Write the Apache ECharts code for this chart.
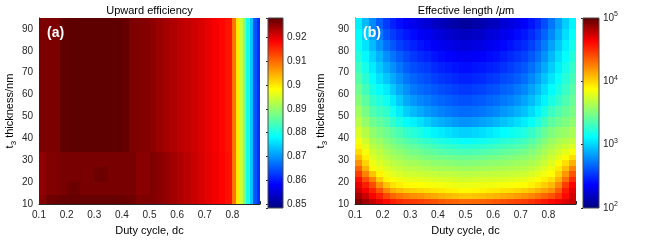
<!DOCTYPE html>
<html><head><meta charset="utf-8">
<script src="https://cdn.jsdelivr.net/npm/echarts@6.0.0/dist/echarts.min.js"></script>
<style>html,body{margin:0;padding:0;background:#fff}#chart{width:654px;height:241px}</style>
</head><body><div id="chart"></div>
<script>
// ---------- Panel (a): Upward efficiency ----------
const dutyEdgesA = [0.1,0.125,0.15,0.175,0.2,0.25,0.3,0.35,0.4,0.425,0.45,0.475,0.5,0.525,0.55,0.575,0.6,0.625,0.65,0.675,0.7,0.725,0.75,0.775,0.8,0.8125,0.825,0.8375,0.85,0.8625,0.875,0.8875,0.9];
const thickEdgesA = [10,14,20,27,34,45,60,75,95];
// rows from bottom (t3 = 10) to top (t3 = 95)
const efficiencyRows = [
 [0.9255,0.927,0.9272,0.9275,0.9275,0.9275,0.9275,0.9275,0.9272,0.927,0.926,0.926,0.926,0.9255,0.9248,0.924,0.9232,0.9224,0.9216,0.9208,0.9198,0.919,0.9182,0.917,0.909,0.900,0.894,0.888,0.880,0.874,0.865,0.862],
 [0.925,0.9258,0.926,0.9265,0.9272,0.9265,0.9265,0.9265,0.9265,0.9265,0.9255,0.9255,0.926,0.9255,0.9248,0.924,0.9232,0.9224,0.9216,0.9208,0.9198,0.919,0.9182,0.917,0.909,0.900,0.894,0.888,0.880,0.874,0.865,0.862],
 [0.925,0.9258,0.926,0.9265,0.9265,0.9265,0.9272,0.9265,0.9265,0.9265,0.9255,0.9255,0.926,0.9255,0.9248,0.924,0.9232,0.9224,0.9216,0.9208,0.9198,0.919,0.9182,0.917,0.909,0.900,0.894,0.888,0.880,0.874,0.865,0.862],
 [0.925,0.9258,0.926,0.9265,0.9265,0.9265,0.9265,0.9265,0.9265,0.9265,0.9255,0.9255,0.926,0.9255,0.9248,0.924,0.9232,0.9224,0.9216,0.9208,0.9198,0.919,0.9182,0.917,0.909,0.900,0.894,0.888,0.880,0.874,0.865,0.862],
 [0.9262,0.9262,0.9262,0.9278,0.928,0.928,0.928,0.928,0.9276,0.9262,0.926,0.9258,0.9252,0.9245,0.9238,0.9232,0.9225,0.9218,0.9212,0.9205,0.9196,0.9188,0.918,0.9168,0.909,0.900,0.894,0.888,0.880,0.874,0.865,0.862],
 [0.9262,0.9262,0.9262,0.9278,0.928,0.928,0.928,0.928,0.9276,0.9262,0.926,0.9258,0.9252,0.9245,0.9238,0.9232,0.9225,0.9218,0.9212,0.9205,0.9196,0.9188,0.918,0.9168,0.909,0.900,0.894,0.888,0.880,0.874,0.865,0.862],
 [0.9262,0.9262,0.9262,0.9278,0.928,0.928,0.928,0.928,0.9276,0.9262,0.926,0.9258,0.9252,0.9245,0.9238,0.9232,0.9225,0.9218,0.9212,0.9205,0.9196,0.9188,0.918,0.9168,0.909,0.900,0.894,0.888,0.880,0.874,0.865,0.862],
 [0.9262,0.9262,0.9262,0.9278,0.928,0.928,0.928,0.928,0.9276,0.9262,0.926,0.9258,0.9252,0.9245,0.9238,0.9232,0.9225,0.9218,0.9212,0.9205,0.9196,0.9188,0.918,0.9168,0.909,0.900,0.894,0.888,0.880,0.874,0.865,0.862]
];
const effRange = [0.8483, 0.9283];
const effColorTicks = [0.85,0.86,0.87,0.88,0.89,0.9,0.91,0.92];

// ---------- Panel (b): Effective length (log10 of length in um) ----------
const dutyEdgesB = [0.1,0.125,0.15,0.175,0.2,0.225,0.25,0.275,0.3,0.325,0.35,0.375,0.4,0.425,0.45,0.475,0.5,0.525,0.55,0.575,0.6,0.625,0.65,0.675,0.7,0.725,0.75,0.775,0.8,0.825,0.85,0.875,0.9];
const thickEdgesB = [10,12.5,15,17.5,20,22.5,25,27.5,30,32.5,35,37.5,40,45,50,55,60,65,70,75,80,85,90,95];
const lengthLog10Rows = [
 [4.92,4.84,4.76,4.68,4.60,4.54,4.50,4.47,4.46,4.44,4.41,4.39,4.36,4.34,4.33,4.31,4.31,4.32,4.33,4.35,4.37,4.39,4.41,4.43,4.45,4.48,4.52,4.56,4.60,4.65,4.70,4.75],
 [4.83,4.74,4.63,4.53,4.42,4.33,4.28,4.24,4.21,4.19,4.15,4.13,4.10,4.08,4.06,4.04,4.04,4.05,4.06,4.08,4.10,4.12,4.14,4.17,4.20,4.23,4.28,4.33,4.38,4.47,4.60,4.72],
 [4.75,4.64,4.52,4.38,4.23,4.12,4.07,4.03,4.01,3.99,3.97,3.95,3.94,3.92,3.91,3.89,3.89,3.90,3.91,3.93,3.94,3.96,3.97,3.99,4.02,4.05,4.10,4.15,4.20,4.35,4.55,4.68],
 [4.68,4.54,4.40,4.20,4.05,3.96,3.92,3.89,3.88,3.87,3.86,3.85,3.84,3.83,3.82,3.81,3.81,3.82,3.83,3.83,3.84,3.85,3.86,3.87,3.88,3.91,3.96,4.02,4.08,4.22,4.45,4.62],
 [4.58,4.40,4.24,4.03,3.90,3.86,3.83,3.81,3.80,3.79,3.78,3.77,3.76,3.76,3.75,3.74,3.74,3.75,3.76,3.76,3.77,3.77,3.78,3.79,3.80,3.83,3.87,3.92,3.97,4.10,4.30,4.50],
 [4.45,4.24,4.05,3.90,3.83,3.79,3.76,3.74,3.73,3.72,3.71,3.70,3.69,3.69,3.68,3.67,3.67,3.68,3.69,3.69,3.70,3.70,3.71,3.72,3.73,3.76,3.80,3.84,3.88,4.00,4.18,4.38],
 [4.33,4.10,3.89,3.82,3.77,3.73,3.70,3.68,3.67,3.65,3.64,3.62,3.61,3.61,3.60,3.59,3.59,3.60,3.61,3.61,3.62,3.63,3.64,3.65,3.66,3.69,3.73,3.78,3.83,3.93,4.07,4.24],
 [4.20,4.00,3.83,3.77,3.72,3.68,3.65,3.62,3.61,3.59,3.57,3.55,3.54,3.53,3.52,3.51,3.51,3.52,3.53,3.54,3.55,3.56,3.57,3.59,3.60,3.63,3.67,3.72,3.78,3.86,3.97,4.10],
 [4.08,3.92,3.78,3.72,3.67,3.63,3.60,3.56,3.54,3.52,3.50,3.48,3.47,3.46,3.45,3.44,3.44,3.45,3.46,3.47,3.48,3.50,3.51,3.53,3.54,3.57,3.62,3.67,3.73,3.80,3.88,3.97],
 [3.98,3.85,3.73,3.68,3.62,3.58,3.54,3.50,3.47,3.45,3.42,3.40,3.38,3.36,3.35,3.34,3.34,3.35,3.36,3.38,3.39,3.41,3.42,3.45,3.47,3.51,3.56,3.62,3.68,3.74,3.80,3.86],
 [3.90,3.79,3.68,3.63,3.57,3.53,3.48,3.44,3.41,3.38,3.35,3.32,3.29,3.27,3.26,3.24,3.24,3.25,3.26,3.28,3.30,3.32,3.34,3.36,3.39,3.44,3.50,3.57,3.63,3.68,3.72,3.77],
 [3.84,3.74,3.63,3.58,3.52,3.47,3.42,3.37,3.34,3.30,3.27,3.24,3.21,3.18,3.16,3.14,3.14,3.16,3.17,3.19,3.21,3.24,3.26,3.29,3.32,3.37,3.44,3.51,3.58,3.62,3.66,3.70],
 [3.76,3.66,3.56,3.50,3.45,3.40,3.34,3.28,3.24,3.20,3.15,3.10,3.07,3.04,3.01,2.99,2.99,3.01,3.03,3.06,3.09,3.12,3.15,3.18,3.22,3.28,3.35,3.43,3.50,3.55,3.58,3.62],
 [3.67,3.56,3.46,3.41,3.36,3.28,3.20,3.12,3.09,3.04,2.98,2.93,2.89,2.86,2.83,2.81,2.81,2.83,2.85,2.88,2.91,2.95,2.98,3.03,3.08,3.14,3.22,3.31,3.40,3.45,3.50,3.54],
 [3.60,3.48,3.36,3.31,3.27,3.17,3.07,2.98,2.93,2.88,2.83,2.79,2.76,2.73,2.71,2.69,2.69,2.71,2.72,2.75,2.78,2.82,2.85,2.90,2.95,3.02,3.10,3.20,3.30,3.36,3.42,3.48],
 [3.52,3.40,3.28,3.22,3.17,3.07,2.97,2.88,2.82,2.77,2.74,2.70,2.67,2.65,2.63,2.61,2.61,2.63,2.64,2.67,2.69,2.73,2.76,2.81,2.86,2.93,3.01,3.10,3.20,3.27,3.35,3.43],
 [3.45,3.32,3.20,3.13,3.07,2.97,2.88,2.80,2.73,2.69,2.66,2.63,2.60,2.58,2.56,2.54,2.54,2.56,2.57,2.60,2.62,2.66,2.68,2.73,2.78,2.85,2.93,3.03,3.12,3.20,3.29,3.38],
 [3.37,3.25,3.13,3.04,2.96,2.88,2.80,2.72,2.67,2.63,2.60,2.56,2.53,2.51,2.49,2.47,2.47,2.49,2.50,2.53,2.55,2.59,2.61,2.65,2.70,2.77,2.85,2.95,3.05,3.14,3.24,3.33],
 [3.30,3.18,3.07,2.97,2.88,2.80,2.72,2.65,2.60,2.57,2.54,2.50,2.47,2.45,2.43,2.41,2.41,2.43,2.44,2.46,2.48,2.52,2.55,2.59,2.63,2.70,2.78,2.88,2.98,3.08,3.18,3.28],
 [3.23,3.11,3.00,2.90,2.80,2.72,2.65,2.59,2.54,2.50,2.47,2.43,2.40,2.38,2.36,2.34,2.34,2.36,2.37,2.40,2.42,2.46,2.49,2.53,2.57,2.63,2.71,2.81,2.92,3.03,3.13,3.23],
 [3.17,3.05,2.93,2.81,2.70,2.63,2.56,2.51,2.47,2.43,2.40,2.36,2.33,2.31,2.29,2.27,2.27,2.29,2.30,2.33,2.35,2.39,2.42,2.46,2.50,2.56,2.64,2.74,2.85,2.96,3.08,3.18],
 [3.12,2.99,2.86,2.74,2.62,2.55,2.49,2.44,2.40,2.36,2.33,2.29,2.26,2.23,2.21,2.19,2.19,2.21,2.22,2.26,2.28,2.32,2.35,2.40,2.44,2.50,2.57,2.67,2.78,2.90,3.03,3.14],
 [3.08,2.92,2.78,2.65,2.55,2.47,2.41,2.36,2.32,2.28,2.25,2.21,2.18,2.14,2.12,2.09,2.09,2.12,2.14,2.18,2.20,2.25,2.28,2.32,2.37,2.43,2.50,2.60,2.72,2.85,2.98,3.10]
];
const lenExpRange = [2, 5];
const lenExpTicks = [2,3,4,5];

const dutyTicks = [0.1,0.2,0.3,0.4,0.5,0.6,0.7,0.8];
const thickTicks = [10,20,30,40,50,60,70,80,90];

const jet = ['#00007f','#0000ff','#007fff','#00ffff','#7fff7f','#ffff00','#ff7f00','#ff0000','#5a0000'];
const FONT = '"Liberation Sans", Arial, Helvetica, sans-serif';
const INK = '#262626';

function buildCells(xE, yE, rows) {
  const out = [];
  for (let i = 0; i < rows.length; i++)
    for (let j = 0; j < rows[i].length; j++)
      out.push([xE[j], xE[j+1], yE[i], yE[i+1], rows[i][j]]);
  return out;
}
function renderCell(params, api) {
  const a = api.coord([api.value(0), api.value(3)]);
  const b = api.coord([api.value(1), api.value(2)]);
  const x0 = Math.round(a[0]), y0 = Math.round(a[1]), x1 = Math.round(b[0]), y1 = Math.round(b[1]);
  return {type:'rect', shape:{x:x0, y:y0, width:x1-x0, height:y1-y0}, style:{fill: api.visual('color')}};
}
function renderBar(params, api) {
  const a = api.coord([0, api.value(1)]);
  const b = api.coord([1, api.value(0)]);
  return {type:'rect', shape:{x:a[0], y:a[1], width:b[0]-a[0], height:b[1]-a[1]},
    style:{fill: new echarts.graphic.LinearGradient(0,1,0,0, jet.map((c,i)=>({offset:i/(jet.length-1), color:c}))),
           stroke:'#4a4a4a', lineWidth:1}};
}
const isTick = (list, v) => list.some(t => Math.abs(t - v) < 1e-6);
const tickFmt = list => v => isTick(list, v) ? String(+v.toFixed(2)) : '';

const yName = '{n|t}{s|3}{n| thickness/nm}';
const nameRich = {
  n:{fontSize:11, lineHeight:16, color:'#000', fontFamily:FONT},
  s:{fontSize:8, lineHeight:8, verticalAlign:'bottom', color:'#000', fontFamily:FONT}
};
function panelX(grid) {
  return {gridIndex:grid, type:'value', min:0.1, max:0.9, interval:0.1,
    name:'Duty cycle, dc', nameLocation:'middle', nameGap:20,
    nameTextStyle:{fontSize:11, color:'#000', fontFamily:FONT},
    axisLine:{show:true, onZero:false, lineStyle:{color:INK, width:1}},
    axisTick:{show:true, inside:true, length:3, lineStyle:{color:INK}},
    axisLabel:{color:INK, fontSize:10, fontFamily:FONT, margin:6, formatter:tickFmt(dutyTicks)},
    splitLine:{show:false}};
}
function panelY(grid, gap) {
  return {gridIndex:grid, type:'value', min:10, max:95, interval:10,
    name:yName, nameLocation:'middle', nameGap:gap,
    nameTextStyle:{fontSize:11, color:'#000', fontFamily:FONT, rich:nameRich},
    axisLine:{show:true, onZero:false, lineStyle:{color:INK, width:1}},
    axisTick:{show:true, inside:true, length:3, lineStyle:{color:INK}},
    axisLabel:{color:INK, fontSize:10, fontFamily:FONT, margin:6, formatter:tickFmt(thickTicks)},
    splitLine:{show:false}};
}
const hiddenX = g => ({gridIndex:g, type:'value', min:0, max:1, show:false});

const chart = echarts.init(document.getElementById('chart'), null, {renderer:'canvas'});
chart.setOption({
  animation:false,
  backgroundColor:'#fff',
  title:[
    {text:'Upward efficiency', left:149.5, top:5, textAlign:'center', padding:0,
     textStyle:{fontSize:11, fontWeight:'normal', color:'#000', fontFamily:FONT}},
    {text:'{n|Effective length /}{i|\u03bc}{n|m}', left:466, top:5, textAlign:'center', padding:0,
     textStyle:{fontSize:11, fontWeight:'normal', color:'#000', fontFamily:FONT,
       rich:{n:{fontSize:11, color:'#000', fontFamily:FONT}, i:{fontSize:11, fontStyle:'italic', color:'#000', fontFamily:FONT}}}},
    {text:'(a)', left:47, top:26, padding:0, textStyle:{fontSize:14, fontWeight:'bold', color:'#fff', fontFamily:FONT}},
    {text:'(b)', left:363, top:26, padding:0, textStyle:{fontSize:14, fontWeight:'bold', color:'#fff', fontFamily:FONT}}
  ],
  grid:[
    {left:39, top:18, width:221, height:190},
    {left:268, top:18, width:15, height:190},
    {left:355, top:18, width:221, height:190},
    {left:583, top:18, width:16, height:190}
  ],
  xAxis:[panelX(0), hiddenX(1), panelX(2), hiddenX(3)],
  yAxis:[
    panelY(0, 21),
    {gridIndex:1, type:'value', position:'right', min:effRange[0], max:effRange[1], splitNumber:8, minInterval:0.01, maxInterval:0.01,
     axisLine:{show:false}, splitLine:{show:false},
     axisTick:{show:true, inside:true, length:2, lineStyle:{color:INK}},
     axisLabel:{color:INK, fontSize:10, fontFamily:FONT, margin:4, formatter:tickFmt(effColorTicks)}},
    panelY(2, 26),
    {gridIndex:3, type:'value', position:'right', min:lenExpRange[0], max:lenExpRange[1], interval:1,
     axisLine:{show:false}, splitLine:{show:false},
     axisTick:{show:true, inside:true, length:2, lineStyle:{color:INK}},
     axisLabel:{color:INK, fontSize:10, fontFamily:FONT, margin:4,
       formatter:v => isTick(lenExpTicks, v) ? '{b|10}{s|' + Math.round(v) + '}' : '',
       rich:{b:{fontSize:10, lineHeight:14, color:INK, fontFamily:FONT}, s:{fontSize:7, lineHeight:7, verticalAlign:'top', color:INK, fontFamily:FONT}}}}
  ],
  visualMap:[
    {type:'continuous', show:false, seriesIndex:0, dimension:4, min:effRange[0], max:effRange[1], inRange:{color:jet}},
    {type:'continuous', show:false, seriesIndex:2, dimension:4, min:lenExpRange[0], max:lenExpRange[1], inRange:{color:jet}}
  ],
  series:[
    {type:'custom', xAxisIndex:0, yAxisIndex:0, clip:true, silent:true, encode:{x:[0,1], y:[2,3]},
     data:buildCells(dutyEdgesA, thickEdgesA, efficiencyRows), renderItem:renderCell, z:1},
    {type:'custom', xAxisIndex:1, yAxisIndex:1, silent:true, encode:{x:[], y:[0,1]},
     data:[[effRange[0], effRange[1]]], renderItem:renderBar},
    {type:'custom', xAxisIndex:2, yAxisIndex:2, clip:true, silent:true, encode:{x:[0,1], y:[2,3]},
     data:buildCells(dutyEdgesB, thickEdgesB, lengthLog10Rows), renderItem:renderCell, z:1},
    {type:'custom', xAxisIndex:3, yAxisIndex:3, silent:true, encode:{x:[], y:[0,1]},
     data:[[lenExpRange[0], lenExpRange[1]]], renderItem:renderBar}
  ]
});
</script>
</body></html>
